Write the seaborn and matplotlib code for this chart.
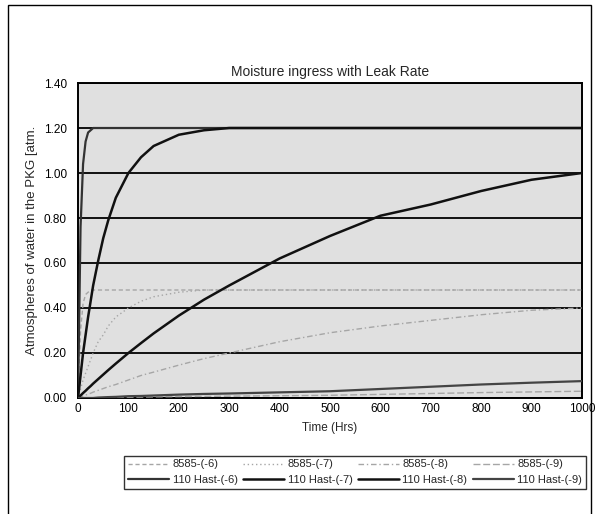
import pandas as pd
import seaborn as sns
import matplotlib
matplotlib.use("Agg")
import matplotlib.pyplot as plt
from matplotlib.patches import Rectangle

# Dados
time_hrs = [0, 5, 10, 15, 20, 25, 30, 40, 50, 60, 75, 100, 125, 150,
            200, 250, 300, 400, 500, 600, 700, 800, 900, 1000]

s8585_6 = [0, 0.30, 0.42, 0.46, 0.47, 0.48, 0.48, 0.48, 0.48, 0.48, 0.48, 0.48,
           0.48, 0.48, 0.48, 0.48, 0.48, 0.48, 0.48, 0.48, 0.48, 0.48, 0.48, 0.48]
s8585_7 = [0, 0.04, 0.08, 0.11, 0.14, 0.17, 0.20, 0.25, 0.28, 0.32, 0.36, 0.40,
           0.43, 0.45, 0.47, 0.48, 0.48, 0.48, 0.48, 0.48, 0.48, 0.48, 0.48, 0.48]
s8585_8 = [0, 0.004, 0.009, 0.013, 0.017, 0.021, 0.026, 0.034, 0.042, 0.05, 0.06, 0.08,
           0.10, 0.115, 0.146, 0.175, 0.20, 0.25, 0.29, 0.32, 0.345, 0.37, 0.39, 0.40]
s8585_9 = [0, 0, 0, 0, 0, 0, 0, 0, 0.001, 0.001, 0.002, 0.003,
           0.004, 0.005, 0.006, 0.007, 0.008, 0.010, 0.012, 0.016, 0.02, 0.024, 0.027, 0.03]

hast_6 = [0, 0.76, 1.04, 1.14, 1.18, 1.19, 1.20, 1.20, 1.20, 1.20, 1.20, 1.20,
          1.20, 1.20, 1.20, 1.20, 1.20, 1.20, 1.20, 1.20, 1.20, 1.20, 1.20, 1.20]
hast_7 = [0, 0.10, 0.20, 0.28, 0.36, 0.43, 0.50, 0.61, 0.71, 0.79, 0.89, 1.00,
          1.07, 1.12, 1.17, 1.19, 1.20, 1.20, 1.20, 1.20, 1.20, 1.20, 1.20, 1.20]
hast_8 = [0, 0.011, 0.022, 0.032, 0.043, 0.053, 0.064, 0.084, 0.104, 0.124, 0.153, 0.20,
          0.244, 0.287, 0.366, 0.437, 0.50, 0.62, 0.72, 0.81, 0.86, 0.92, 0.97, 1.00]
hast_9 = [0, 0, 0, 0, 0, 0, 0, 0.002, 0.003, 0.004, 0.005, 0.008,
          0.009, 0.011, 0.015, 0.018, 0.02, 0.025, 0.03, 0.04, 0.05, 0.06, 0.068, 0.075]

series_names = ["8585-(-6)", "110 Hast-(-6)", "8585-(-7)", "110 Hast-(-7)",
                "8585-(-8)", "110 Hast-(-8)", "8585-(-9)", "110 Hast-(-9)"]
series_values = [s8585_6, hast_6, s8585_7, hast_7, s8585_8, hast_8, s8585_9, hast_9]

styles = {
    "8585-(-6)": ("#a6a6a6", (0, (3, 2)), 1.0),
    "8585-(-7)": ("#a6a6a6", (0, (1, 2)), 1.0),
    "8585-(-8)": ("#a6a6a6", (0, (4, 2, 1, 2)), 1.0),
    "8585-(-9)": ("#a6a6a6", (0, (5, 2)), 1.0),
    "110 Hast-(-6)": ("#333333", "-", 1.6),
    "110 Hast-(-7)": ("#111111", "-", 1.8),
    "110 Hast-(-8)": ("#111111", "-", 1.8),
    "110 Hast-(-9)": ("#444444", "-", 1.6),
}

sns.set_style("white")
plt.rcParams['font.family'] = ['Liberation Sans', 'DejaVu Sans']

fig = plt.figure(figsize=(5.97, 5.14), dpi=100)
ax = fig.add_axes([0.1307, 0.2257, 0.844, 0.6128])
ax.set_facecolor("#e0e0e0")

for name, vals in zip(series_names, series_values):
    color, ls, lw = styles[name]
    df = pd.DataFrame({"Time": time_hrs, "Atm": vals})
    sns.lineplot(data=df, x="Time", y="Atm", ax=ax, label=name,
                 color=color, linestyle=ls, linewidth=lw, zorder=3)

ax.set_xlim(0, 1000)
ax.set_ylim(0, 1.4)
ax.set_xticks(range(0, 1001, 100))
ax.set_yticks([i * 0.2 for i in range(8)])
ax.set_yticklabels([f"{i * 0.2:.2f}" for i in range(8)])
ax.yaxis.grid(True, color="#111111", linewidth=1.4, zorder=1)
ax.xaxis.grid(False)
ax.set_axisbelow(True)
for sp in ax.spines.values():
    sp.set_color("black")
    sp.set_linewidth(1.4)
ax.tick_params(axis="both", labelsize=8.5, length=3, direction="in", colors="black")
ax.tick_params(axis="y", length=0, pad=8)

ax.set_title("Moisture ingress with Leak Rate", fontsize=10, pad=5)
ax.set_xlabel("Time (Hrs)", fontsize=8.5, labelpad=5)
ax.set_ylabel("Atmospheres of water in the PKG [atm.", fontsize=9.5, labelpad=4)

ax.legend(loc="upper center", bbox_to_anchor=(0.55, -0.165), ncol=4, fontsize=8,
          frameon=True, fancybox=False, edgecolor="black", handlelength=3.7,
          columnspacing=0.5, handletextpad=0.3, borderpad=0.35, labelspacing=0.5)
ax.get_legend().get_frame().set_linewidth(1.0)

# borda externa do gráfico
fig.patches.append(Rectangle((0.013, -0.01), 0.977, 1.0, transform=fig.transFigure,
                             fill=False, edgecolor="black", linewidth=1.0))

plt.savefig("out.png", dpi=100)
